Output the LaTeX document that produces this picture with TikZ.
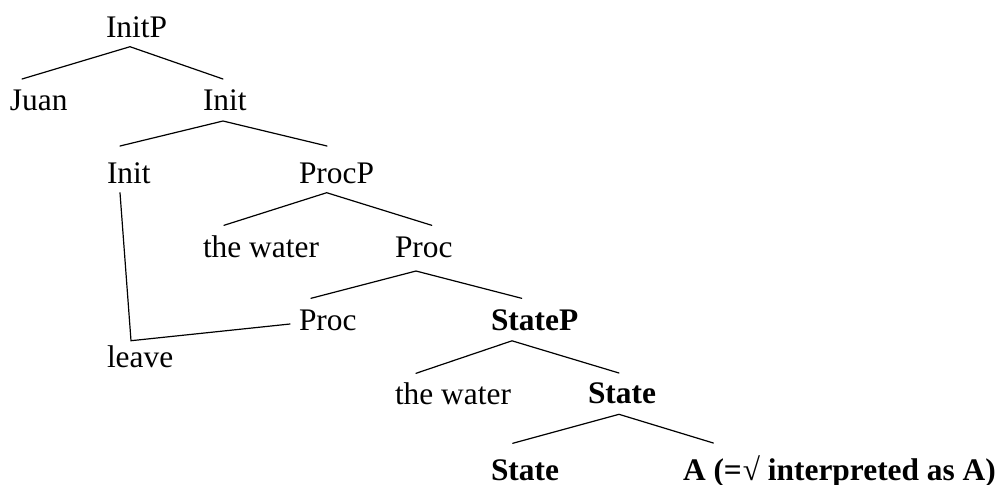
\documentclass[tikz,border=0pt]{standalone}
\usepackage{fontspec}
\setmainfont{Liberation Serif}
\usetikzlibrary{calc}
\begin{document}
\begin{tikzpicture}[x=0.5pt,y=-0.5pt,
  lbl/.style={inner sep=0pt,outer sep=0pt,anchor=base west,font=\fontsize{15.7pt}{18pt}\selectfont},
  blbl/.style={lbl,font=\fontsize{15.7pt}{18pt}\selectfont\bfseries},
  branch/.style={line width=0.6pt,line cap=round,line join=miter}]
\useasboundingbox (0,0) rectangle (1002,484);

% labels, placed by their baselines
\node[lbl]  (initp)  at (106,37)    {InitP};
\node[lbl]  (juan)   at (10,110)    {Juan};
\node[lbl]  (initA)  at (203,110)   {Init};
\node[lbl]  (initB)  at (107,183.5) {Init};
\node[lbl]  (procp)  at (299,183.5) {ProcP};
\node[lbl]  (waterA) at (203,257)   {the water};
\node[lbl]  (procA)  at (395,257)   {Proc};
\node[lbl]  (procB)  at (299,330)   {Proc};
\node[lbl]  (leave)  at (107,367)   {leave};
\node[blbl] (statep) at (491,330.5) {StateP};
\node[lbl]  (waterB) at (395,404)   {the water};
\node[blbl] (stateA) at (588,403.5) {State};
\node[blbl] (stateB) at (491,480)   {State};
\node[blbl] (adj)    at (683,480)   {A (=\kern0.5pt√ interpreted as A)};

% branches
\draw[branch] ($(juan.base west)+(12,-31)$) -- ($(initp.base west)+(24,9.7)$) -- ($(initA.base west)+(20,-31)$);
\draw[branch] ($(initB.base west)+(13,-37.5)$) -- ($(initA.base west)+(20,11)$) -- ($(procp.base west)+(28,-37.5)$);
\draw[branch] ($(waterA.base west)+(21,-31.7)$) -- ($(procp.base west)+(27.7,9.2)$) -- ($(procA.base west)+(36.7,-31.7)$);
\draw[branch] ($(procB.base west)+(12,-31.7)$) -- ($(procA.base west)+(21,14)$) -- ($(statep.base west)+(30.7,-32.2)$);
\draw[branch] ($(waterB.base west)+(21,-30.7)$) -- ($(statep.base west)+(21,10.3)$) -- ($(stateA.base west)+(31,-30.5)$);
\draw[branch] ($(stateB.base west)+(21.7,-36.7)$) -- ($(stateA.base west)+(31,10.8)$) -- ($(adj.base west)+(30.3,-37)$);

% head movement: leave raised from Proc to Init
\coordinate (bend) at ($(leave.base west)+(24,-26.3)$);
\draw[branch] ($(initB.base west)+(13,9.2)$) -- (bend) -- ($(procB.base west)+(-9,-6)$);
\end{tikzpicture}
\end{document}
